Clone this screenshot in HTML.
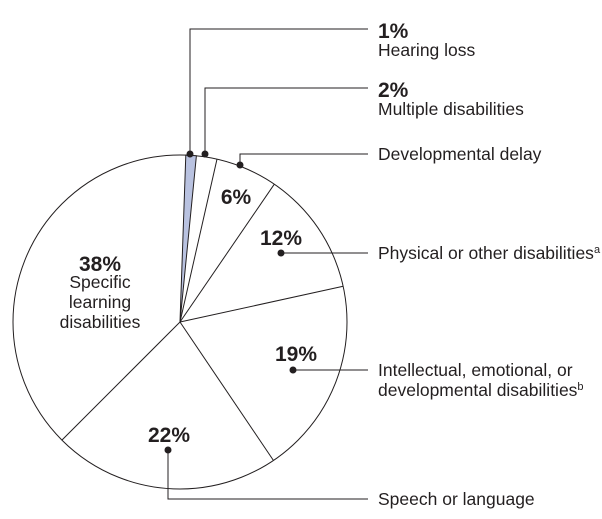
<!DOCTYPE html>
<html><head><meta charset="utf-8"><style>
body{margin:0;background:#fff}
svg{display:block}
text{font-family:"Liberation Sans",Arial,sans-serif;fill:#231f20}
.b{font-weight:bold;font-size:21px}
.t{font-size:17.5px}
</style></head><body>
<svg width="602" height="519" viewBox="0 0 602 519">
<g stroke="#231f20" stroke-width="1" fill="none">
<circle cx="180" cy="322" r="167" fill="#fff"/>
</g>
<path d="M180,322 L185.8,155.1 L196.4,155.8 Z" fill="#b9c2e0" stroke="#231f20" stroke-width="1"/>
<g stroke="#231f20" stroke-width="1">
<line x1="180" y1="322" x2="217" y2="159.1"/>
<line x1="180" y1="322" x2="274.3" y2="184.2"/>
<line x1="180" y1="322" x2="343.2" y2="286.3"/>
<line x1="180" y1="322" x2="273.4" y2="460.4"/>
<line x1="180" y1="322" x2="61.9" y2="440.1"/>
<polyline fill="none" points="190,154 190,29 368,29"/>
<polyline fill="none" points="205,154 205,88 368,88"/>
<polyline fill="none" points="240,165 240,154 368,154"/>
<polyline fill="none" points="281,253 368,253"/>
<polyline fill="none" points="293,370 368,370"/>
<polyline fill="none" points="168,450 168,499 368,499"/>
</g>
<g fill="#231f20">
<circle cx="190" cy="154" r="3.5"/><circle cx="205" cy="154" r="3.5"/>
<circle cx="240" cy="165" r="3.5"/><circle cx="281" cy="253" r="3.5"/>
<circle cx="293" cy="370" r="3.5"/><circle cx="168" cy="450" r="3.5"/>
</g>
<text class="b" x="378" y="38">1%</text>
<text class="t" x="378" y="56">Hearing loss</text>
<text class="b" x="378" y="97">2%</text>
<text class="t" x="378" y="115">Multiple disabilities</text>
<text class="t" x="378" y="160">Developmental delay</text>
<text class="t" x="378" y="259">Physical or other disabilities<tspan font-size="11" dy="-6">a</tspan></text>
<text class="t" x="378" y="376">Intellectual, emotional, or</text>
<text class="t" x="378" y="396">developmental disabilities<tspan font-size="11" dy="-6">b</tspan></text>
<text class="t" x="378" y="505">Speech or language</text>
<text class="b" x="236" y="204" text-anchor="middle">6%</text>
<text class="b" x="281" y="245" text-anchor="middle">12%</text>
<text class="b" x="296" y="361" text-anchor="middle">19%</text>
<text class="b" x="169" y="442" text-anchor="middle">22%</text>
<text class="b" x="100" y="271" text-anchor="middle">38%</text>
<text class="t" x="100" y="288" text-anchor="middle">Specific</text>
<text class="t" x="100" y="308" text-anchor="middle">learning</text>
<text class="t" x="100" y="328" text-anchor="middle">disabilities</text>
</svg>
</body></html>
